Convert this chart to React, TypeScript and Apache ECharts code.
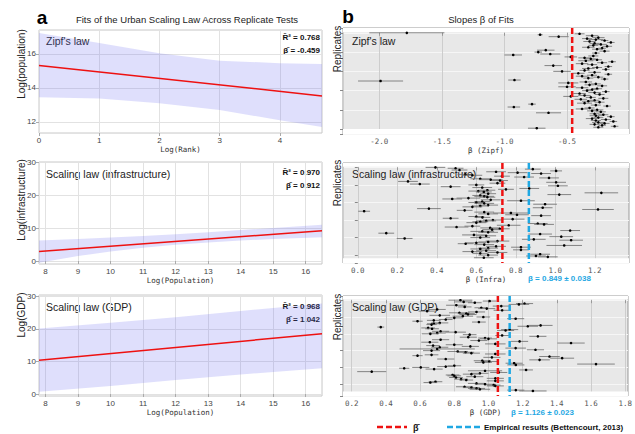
import React, { useEffect, useRef } from 'react';
import * as echarts from 'echarts';

// ---------- Panel a: fitted lines and confidence bands ----------
const zipfBandX = [0, 1, 2, 3, 4, 4.7];
const zipfBandUpper = [17.22, 16.63, 16.04, 15.6, 15.45, 15.41];
const zipfBandLower = [13.45, 13.37, 13.1, 12.7, 12.1, 11.7];
const zipfFitX = [0, 4.7];
const zipfFitY = [15.31, 13.53];

const infraBandX = [7.8, 9, 10, 11, 12, 13, 14, 15, 16.5];
const infraBandUpper = [6.2, 6.7, 7.1, 7.6, 8.1, 8.7, 9.4, 10.0, 11.0];
const infraBandLower = [-0.5, 1.5, 2.9, 4.0, 4.9, 5.6, 6.2, 6.7, 7.2];
const infraFitX = [7.8, 16.5];
const infraFitY = [2.9, 9.2];

const gdpBandX = [7.8, 10, 12, 14, 16.5];
const gdpBandUpper = [20.1, 21.9, 23.6, 25.5, 27.8];
const gdpBandLower = [0.7, 2.5, 4.3, 6.0, 7.9];
const gdpFitX = [7.8, 16.5];
const gdpFitY = [10.4, 18.5];

// ---------- Panel b: slopes per replicate (top to bottom) ----------
const zipfSlopes = [
  -1.78, -0.40, -0.715, -0.30, -0.567, -0.25, -0.34, -0.27, -0.20, -0.32,
  -0.15, -0.28, -0.23, -0.29, -0.18, -0.33, -0.22, -0.26, -0.67, -0.20,
  -0.73, -0.27, -0.634, -0.93, -0.29, -0.47, -0.36, -0.31, -0.26, -0.35,
  -0.14, -0.22, -0.38, -0.30, -0.61, -0.17, -0.26, -0.33, -0.19, -0.36,
  -0.54, -0.28, -0.41, -0.17, -0.30, -0.38, -0.25, -0.33, -0.20, -0.92,
  -1.99, -0.35, -0.49, -0.27, -0.32, -0.22, -0.50, -0.38, -0.26, -0.30,
  -0.34, -0.19, -0.28, -0.40, -0.24, -0.36, -0.47, -0.31, -0.21, -0.39,
  -0.28, -0.33, -0.24, -0.36, -0.78, -0.27, -0.18, -0.925, -0.32, -0.38,
  -0.26, -0.30, -0.23, -0.648, -0.28, -0.21, -0.27, -0.15, -0.25, -0.30,
  -0.19, -0.27, -0.13, -0.25, -0.20, -0.28, -0.22, -0.12, -0.25, -0.742,
];
const zipfErr = [
  0.30, 0.04, 0.02, 0.05, 0.08, 0.05, 0.04, 0.06, 0.03, 0.05,
  0.03, 0.04, 0.05, 0.04, 0.04, 0.05, 0.03, 0.04, 0.07, 0.04,
  0.03, 0.03, 0.08, 0.07, 0.04, 0.05, 0.05, 0.04, 0.04, 0.06,
  0.03, 0.04, 0.05, 0.04, 0.07, 0.03, 0.04, 0.05, 0.03, 0.04,
  0.07, 0.05, 0.05, 0.03, 0.04, 0.05, 0.04, 0.04, 0.03, 0.05,
  0.18, 0.05, 0.08, 0.04, 0.04, 0.04, 0.07, 0.05, 0.04, 0.05,
  0.04, 0.03, 0.05, 0.05, 0.04, 0.05, 0.06, 0.04, 0.04, 0.05,
  0.04, 0.05, 0.04, 0.06, 0.03, 0.04, 0.03, 0.05, 0.04, 0.05,
  0.05, 0.04, 0.04, 0.10, 0.04, 0.04, 0.05, 0.03, 0.04, 0.05,
  0.04, 0.04, 0.03, 0.05, 0.04, 0.04, 0.03, 0.03, 0.04, 0.07,
];

const infraSlopes = [
  0.393, 0.495, 0.886, 0.515, 1.004, 0.70, 0.809, 0.928, 0.545, 0.58,
  0.73, 0.842, 0.968, 0.62, 0.673, 0.72, 0.254, 1.004, 0.707, 0.314,
  0.60, 1.013, 0.47, 0.63, 0.868, 0.75, 0.656, 0.61, 0.638, 1.233,
  0.66, 1.02, 0.62, 0.64, 0.656, 0.56, 0.478, 0.673, 0.826, 0.63,
  0.60, 0.64, 0.948, 0.66, 0.62, 0.58, 0.936, 0.36, 1.216, 0.541,
  0.032, 0.64, 0.775, 0.66, 0.806, 0.928, 0.60, 0.631, 0.47, 0.784,
  0.684, 0.65, 0.62, 0.60, 0.911, 0.943, 0.764, 0.58, 0.50, 0.67,
  0.719, 0.68, 1.075, 0.63, 0.66, 0.144, 0.923, 0.588, 0.65, 1.03,
  0.62, 0.237, 0.891, 1.08, 0.707, 0.66, 0.60, 0.546, 0.64, 1.045,
  0.70, 0.826, 0.66, 0.62, 0.826, 0.65, 0.58, 0.707, 0.62, 0.923,
  0.66, 0.902, 0.962, 0.638,
];
const infraErr = [
  0.05, 0.04, 0.04, 0.04, 0.03, 0.05, 0.05, 0.05, 0.04, 0.05,
  0.04, 0.05, 0.05, 0.05, 0.06, 0.04, 0.05, 0.05, 0.04, 0.05,
  0.04, 0.05, 0.05, 0.05, 0.05, 0.04, 0.04, 0.05, 0.04, 0.085,
  0.04, 0.06, 0.04, 0.05, 0.04, 0.06, 0.05, 0.05, 0.07, 0.04,
  0.04, 0.05, 0.06, 0.05, 0.04, 0.05, 0.05, 0.06, 0.08, 0.04,
  0.03, 0.05, 0.09, 0.05, 0.06, 0.05, 0.04, 0.04, 0.04, 0.06,
  0.05, 0.05, 0.04, 0.05, 0.05, 0.05, 0.06, 0.04, 0.06, 0.05,
  0.05, 0.05, 0.05, 0.06, 0.05, 0.04, 0.06, 0.06, 0.05, 0.06,
  0.05, 0.04, 0.06, 0.06, 0.06, 0.05, 0.05, 0.04, 0.05, 0.09,
  0.05, 0.05, 0.05, 0.05, 0.04, 0.05, 0.05, 0.05, 0.04, 0.05,
  0.05, 0.05, 0.05, 0.05,
];

const gdpSlopes = [
  0.836, 1.007, 0.855, 0.92, 1.211, 1.178, 0.812, 1.075, 0.861, 0.958,
  0.99, 0.70, 1.08, 0.641, 0.93, 0.83, 0.87, 0.88, 0.715, 0.85,
  0.97, 0.80, 1.159, 0.75, 0.68, 0.585, 0.944, 0.715, 0.68, 0.667,
  1.305, 1.23, 0.37, 0.647, 0.67, 1.124, 1.10, 0.72, 0.808, 0.70,
  0.66, 0.89, 1.08, 1.289, 0.882, 0.98, 1.00, 0.72, 0.944, 1.182,
  0.657, 1.483, 1.04, 0.80, 0.676, 0.894, 0.715, 1.159, 0.70, 1.275,
  0.667, 0.82, 0.866, 0.90, 1.04, 0.667, 0.585, 1.357, 1.02, 1.431,
  0.75, 1.299, 0.964, 1.004, 0.97, 1.15, 1.629, 1.16, 0.80, 0.75,
  0.604, 0.507, 0.682, 1.22, 0.98, 0.317, 1.06, 0.95, 0.90, 0.79,
  0.80, 0.92, 0.81, 1.04, 0.84, 0.87, 1.04, 0.69, 0.66, 0.93,
  0.98, 1.03, 1.04, 0.86, 0.90, 0.93, 0.95, 1.16, 1.26,
];
const gdpErr = [
  0.07, 0.04, 0.05, 0.04, 0.05, 0.06, 0.06, 0.05, 0.04, 0.04,
  0.05, 0.05, 0.05, 0.05, 0.05, 0.06, 0.05, 0.05, 0.06, 0.06,
  0.04, 0.05, 0.05, 0.04, 0.04, 0.03, 0.04, 0.05, 0.04, 0.03,
  0.07, 0.06, 0.02, 0.04, 0.04, 0.05, 0.05, 0.05, 0.06, 0.05,
  0.05, 0.04, 0.04, 0.05, 0.05, 0.04, 0.05, 0.05, 0.05, 0.05,
  0.05, 0.08, 0.06, 0.05, 0.04, 0.05, 0.05, 0.06, 0.22, 0.05,
  0.05, 0.06, 0.05, 0.05, 0.06, 0.04, 0.03, 0.06, 0.05, 0.07,
  0.05, 0.06, 0.05, 0.05, 0.05, 0.05, 0.11, 0.05, 0.04, 0.05,
  0.05, 0.03, 0.05, 0.04, 0.10, 0.085, 0.05, 0.05, 0.05, 0.04,
  0.04, 0.05, 0.04, 0.05, 0.04, 0.04, 0.05, 0.04, 0.04, 0.05,
  0.06, 0.04, 0.05, 0.05, 0.05, 0.05, 0.06, 0.05, 0.08,
];

// mean slope (red) and empirical reference (blue) lines
const zipfMean = -0.459;
const infraMean = 0.732;
const infraEmpirical = 0.866;
const gdpMean = 1.055;
const gdpEmpirical = 1.124;

const FONT = '"Liberation Sans", Arial, sans-serif';
const MONO = '"DejaVu Sans Mono", monospace';
const RED = '#ee1111';
const CYAN = '#1fa8e3';
const BAND = 'rgba(110,110,240,0.22)';

function bandSeries(idx: number, xs: number[], lo: number[], hi: number[]) {
  return {
    type: 'custom',
    xAxisIndex: idx,
    yAxisIndex: idx,
    silent: true,
    z: 1,
    data: xs.map((x, i) => [x, lo[i], hi[i]]),
    encode: { x: 0, y: [1, 2] },
    renderItem: (params: any, api: any) => {
      if (params.dataIndex !== 0) return null;
      const top = xs.map((x, i) => api.coord([x, hi[i]]));
      const bot = xs.map((x, i) => api.coord([x, lo[i]])).reverse();
      return { type: 'polygon', shape: { points: top.concat(bot) }, style: { fill: BAND } };
    },
  };
}

function fitSeries(idx: number, xs: number[], ys: number[]) {
  return {
    type: 'line',
    xAxisIndex: idx,
    yAxisIndex: idx,
    silent: true,
    z: 3,
    showSymbol: false,
    symbol: 'none',
    data: xs.map((x, i) => [x, ys[i]]),
    lineStyle: { color: RED, width: 1.5 },
  };
}

function slopeSeries(idx: number, slopes: number[], errs: number[]) {
  return {
    type: 'custom',
    xAxisIndex: idx,
    yAxisIndex: idx,
    silent: true,
    z: 3,
    data: slopes.map((s, i) => [s, i, s - errs[i], s + errs[i]]),
    encode: { x: [0, 2, 3], y: 1 },
    renderItem: (params: any, api: any) => {
      const y = api.value(1);
      const p = api.coord([api.value(0), y]);
      const l = api.coord([api.value(2), y]);
      const r = api.coord([api.value(3), y]);
      return {
        type: 'group',
        children: [
          { type: 'line', shape: { x1: l[0], y1: l[1], x2: r[0], y2: r[1] }, style: { stroke: '#6a6a6a', lineWidth: 0.8 } },
          { type: 'circle', shape: { cx: p[0], cy: p[1], r: 1.3 }, style: { fill: '#000' } },
        ],
      };
    },
  };
}

function vLine(idx: number, v: number, n: number, color: string, strips: boolean) {
  const s: any = {
    type: 'line',
    xAxisIndex: idx,
    yAxisIndex: idx,
    silent: true,
    z: 5,
    showSymbol: false,
    symbol: 'none',
    data: [[v, -5], [v, n + 5]],
    lineStyle: { color, width: 2.5, type: [6, 3] },
  };
  if (strips) {
    s.markArea = {
      silent: true,
      itemStyle: { color: '#ffffff' },
      data: [
        [{ yAxis: -5 }, { yAxis: -0.7 }],
        [{ yAxis: n - 0.3 }, { yAxis: n + 5 }],
      ],
    };
  }
  return s;
}

const intFmt = (v: number) => String(Math.round(v));
const decFmt = (v: number) => v.toFixed(1);

function leftX(idx: number, min: number, max: number, split: number, name: string, showMin: boolean) {
  return {
    type: 'value', gridIndex: idx, min, max, splitNumber: split,
    name, nameLocation: 'middle', nameGap: 12,
    nameTextStyle: { fontFamily: MONO, fontSize: 7.5, color: '#333' },
    axisLine: { show: false },
    axisTick: { show: true, length: 3, lineStyle: { color: '#aaa' } },
    axisLabel: { fontFamily: FONT, fontSize: 8, color: '#444', margin: 3, formatter: intFmt, showMinLabel: showMin, showMaxLabel: false },
    splitLine: { show: true, lineStyle: { color: '#e2e2e2', width: 1 } },
  };
}

function leftY(idx: number, min: number, max: number, showMax: boolean) {
  return {
    type: 'value', gridIndex: idx, min, max, splitNumber: 3,
    axisLine: { show: false },
    axisTick: { show: true, length: 3, lineStyle: { color: '#aaa' } },
    axisLabel: { fontFamily: FONT, fontSize: 8, color: '#444', margin: 3, formatter: intFmt, showMinLabel: false, showMaxLabel: showMax },
    splitLine: { show: true, lineStyle: { color: '#e2e2e2', width: 1 } },
  };
}

function rightX(idx: number, min: number, max: number, split: number, name: string) {
  return {
    type: 'value', gridIndex: idx, min, max, splitNumber: split,
    name, nameLocation: 'middle', nameGap: 12,
    nameTextStyle: { fontFamily: MONO, fontSize: 7.5, color: '#333' },
    axisLine: { show: false },
    axisTick: { show: true, length: 3, lineStyle: { color: '#999' } },
    axisLabel: { fontFamily: MONO, fontSize: 7.5, color: '#555', margin: 3, formatter: decFmt, showMinLabel: false, showMaxLabel: false },
    splitLine: { show: true, lineStyle: { color: '#cdcdcd', width: 1 } },
  };
}

function rightY(idx: number, n: number) {
  return {
    type: 'value', gridIndex: idx, min: -5, max: n + 5, inverse: true, splitNumber: 5,
    axisLine: { show: false },
    axisTick: { show: true, length: 3, lineStyle: { color: '#888' } },
    axisLabel: { show: false },
    splitLine: { show: true, lineStyle: { color: '#f6f6f6', width: 1 } },
  };
}

function txt(x: number, y: number, text: string, opts: any = {}) {
  const { rotate, ...style } = opts;
  return {
    type: 'text', x, y, rotation: rotate || 0, silent: true,
    style: { text, fontFamily: FONT, fontSize: 10, fill: '#222', align: 'left', verticalAlign: 'middle', ...style },
  };
}

function buildOption() {
  const leftGrid = { show: true, backgroundColor: '#fff', borderColor: '#c8c8c8', borderWidth: 1 };
  const rightGrid = { show: true, backgroundColor: '#e8e8e8', borderColor: '#9a9a9a', borderWidth: 1 };
  const nZ = zipfSlopes.length, nI = infraSlopes.length, nG = gdpSlopes.length;
  return {
    animation: false,
    backgroundColor: '#fff',
    grid: [
      { left: 39, top: 30, width: 283, height: 103, ...leftGrid },
      { left: 39, top: 162, width: 283, height: 102, ...leftGrid },
      { left: 39, top: 295, width: 283, height: 101, ...leftGrid },
      { left: 343, top: 28, width: 286, height: 106, ...rightGrid },
      { left: 343, top: 163, width: 286, height: 100, ...rightGrid },
      { left: 343, top: 296, width: 286, height: 100, ...rightGrid },
    ],
    xAxis: [
      leftX(0, 0, 4.7, 5, 'Log(Rank)', true),
      leftX(1, 7.8, 16.5, 9, 'Log(Population)', false),
      leftX(2, 7.8, 16.5, 9, 'Log(Population)', false),
      rightX(3, -2.29, -0.005, 5, 'β (Zipf)'),
      rightX(4, -0.075, 1.373, 7, 'β (Infra)'),
      rightX(5, 0.149, 1.816, 8, 'β (GDP)'),
    ],
    yAxis: [
      leftY(0, 11.35, 17.4, false),
      leftY(1, -0.9, 30, true),
      leftY(2, -0.6, 30.4, false),
      rightY(3, nZ),
      rightY(4, nI),
      rightY(5, nG),
    ],
    series: [
      bandSeries(0, zipfBandX, zipfBandLower, zipfBandUpper),
      fitSeries(0, zipfFitX, zipfFitY),
      bandSeries(1, infraBandX, infraBandLower, infraBandUpper),
      fitSeries(1, infraFitX, infraFitY),
      bandSeries(2, gdpBandX, gdpBandLower, gdpBandUpper),
      fitSeries(2, gdpFitX, gdpFitY),
      slopeSeries(3, zipfSlopes, zipfErr),
      vLine(3, zipfMean, nZ, RED, true),
      slopeSeries(4, infraSlopes, infraErr),
      vLine(4, infraMean, nI, RED, true),
      vLine(4, infraEmpirical, nI, CYAN, false),
      slopeSeries(5, gdpSlopes, gdpErr),
      vLine(5, gdpMean, nG, RED, true),
      vLine(5, gdpEmpirical, nG, CYAN, false),
    ],
    graphic: [
      txt(42, 17, 'a', { fontSize: 19, fontWeight: 'bold', align: 'center', fill: '#000' }),
      txt(187, 19, 'Fits of the Urban Scaling Law Across Replicate Tests', { fontSize: 9.5, align: 'center' }),
      txt(348, 16, 'b', { fontSize: 19, fontWeight: 'bold', align: 'center', fill: '#000' }),
      txt(481, 19, 'Slopes β of Fits', { fontSize: 9.5, align: 'center' }),

      txt(21, 64, 'Log(population)', { rotate: Math.PI / 2, align: 'center' }),
      txt(21, 200, 'Log(infrastructure)', { rotate: Math.PI / 2, align: 'center' }),
      txt(21, 315, 'Log(GDP)', { rotate: Math.PI / 2, align: 'center' }),
      txt(337, 49, 'Replicates', { rotate: Math.PI / 2, align: 'center' }),
      txt(337, 183, 'Replicates', { rotate: Math.PI / 2, align: 'center' }),
      txt(337, 317, 'Replicates', { rotate: Math.PI / 2, align: 'center' }),

      txt(46, 41, "Zipf's law", { fontSize: 10.5 }),
      txt(46, 174, 'Scaling law (infrastructure)', { fontSize: 10.5 }),
      txt(46, 307, 'Scaling law (GDP)', { fontSize: 10.5 }),
      txt(352, 41, "Zipf's law", { fontSize: 10.5 }),
      txt(352, 174, 'Scaling law (infrastructure)', { fontSize: 10.5 }),
      txt(352, 307, 'Scaling law (GDP)', { fontSize: 10.5 }),

      txt(320, 37, 'R\u0304\u00b2 = 0.768', { fontSize: 8, fontWeight: 'bold', align: 'right', fill: '#111' }),
      txt(320, 50, 'β\u0304 = -0.459', { fontSize: 8, fontWeight: 'bold', align: 'right', fill: '#111' }),
      txt(320, 172, 'R\u0304\u00b2 = 0.970', { fontSize: 8, fontWeight: 'bold', align: 'right', fill: '#111' }),
      txt(320, 185, 'β\u0304 = 0.912', { fontSize: 8, fontWeight: 'bold', align: 'right', fill: '#111' }),
      txt(320, 306, 'R\u0304\u00b2 = 0.968', { fontSize: 8, fontWeight: 'bold', align: 'right', fill: '#111' }),
      txt(320, 319, 'β\u0304 = 1.042', { fontSize: 8, fontWeight: 'bold', align: 'right', fill: '#111' }),

      txt(528, 278, 'β = 0.849 ± 0.038', { fontSize: 8, fontWeight: 'bold', fill: CYAN }),
      txt(511, 412, 'β = 1.126 ± 0.023', { fontSize: 8, fontWeight: 'bold', fill: CYAN }),

      { type: 'line', silent: true, shape: { x1: 377, y1: 427, x2: 407, y2: 427 }, style: { stroke: RED, lineWidth: 2.5, lineDash: [6, 3] } },
      txt(413, 428, 'β\u0304', { fontSize: 9, fontWeight: 'bold', fill: '#111' }),
      { type: 'line', silent: true, shape: { x1: 447, y1: 427, x2: 480, y2: 427 }, style: { stroke: CYAN, lineWidth: 2.5, lineDash: [6, 3] } },
      txt(484, 427, 'Empirical results (Bettencourt, 2013)', { fontSize: 8, fontWeight: 'bold', fill: '#111' }),
    ],
  };
}

export default function App() {
  const ref = useRef<HTMLDivElement>(null);
  useEffect(() => {
    const chart = echarts.init(ref.current as HTMLDivElement, null, { renderer: 'svg' });
    chart.setOption(buildOption() as any);
    return () => chart.dispose();
  }, []);
  return <div ref={ref} style={{ position: 'absolute', left: 0, top: 0, width: 635, height: 434 }} />;
}
